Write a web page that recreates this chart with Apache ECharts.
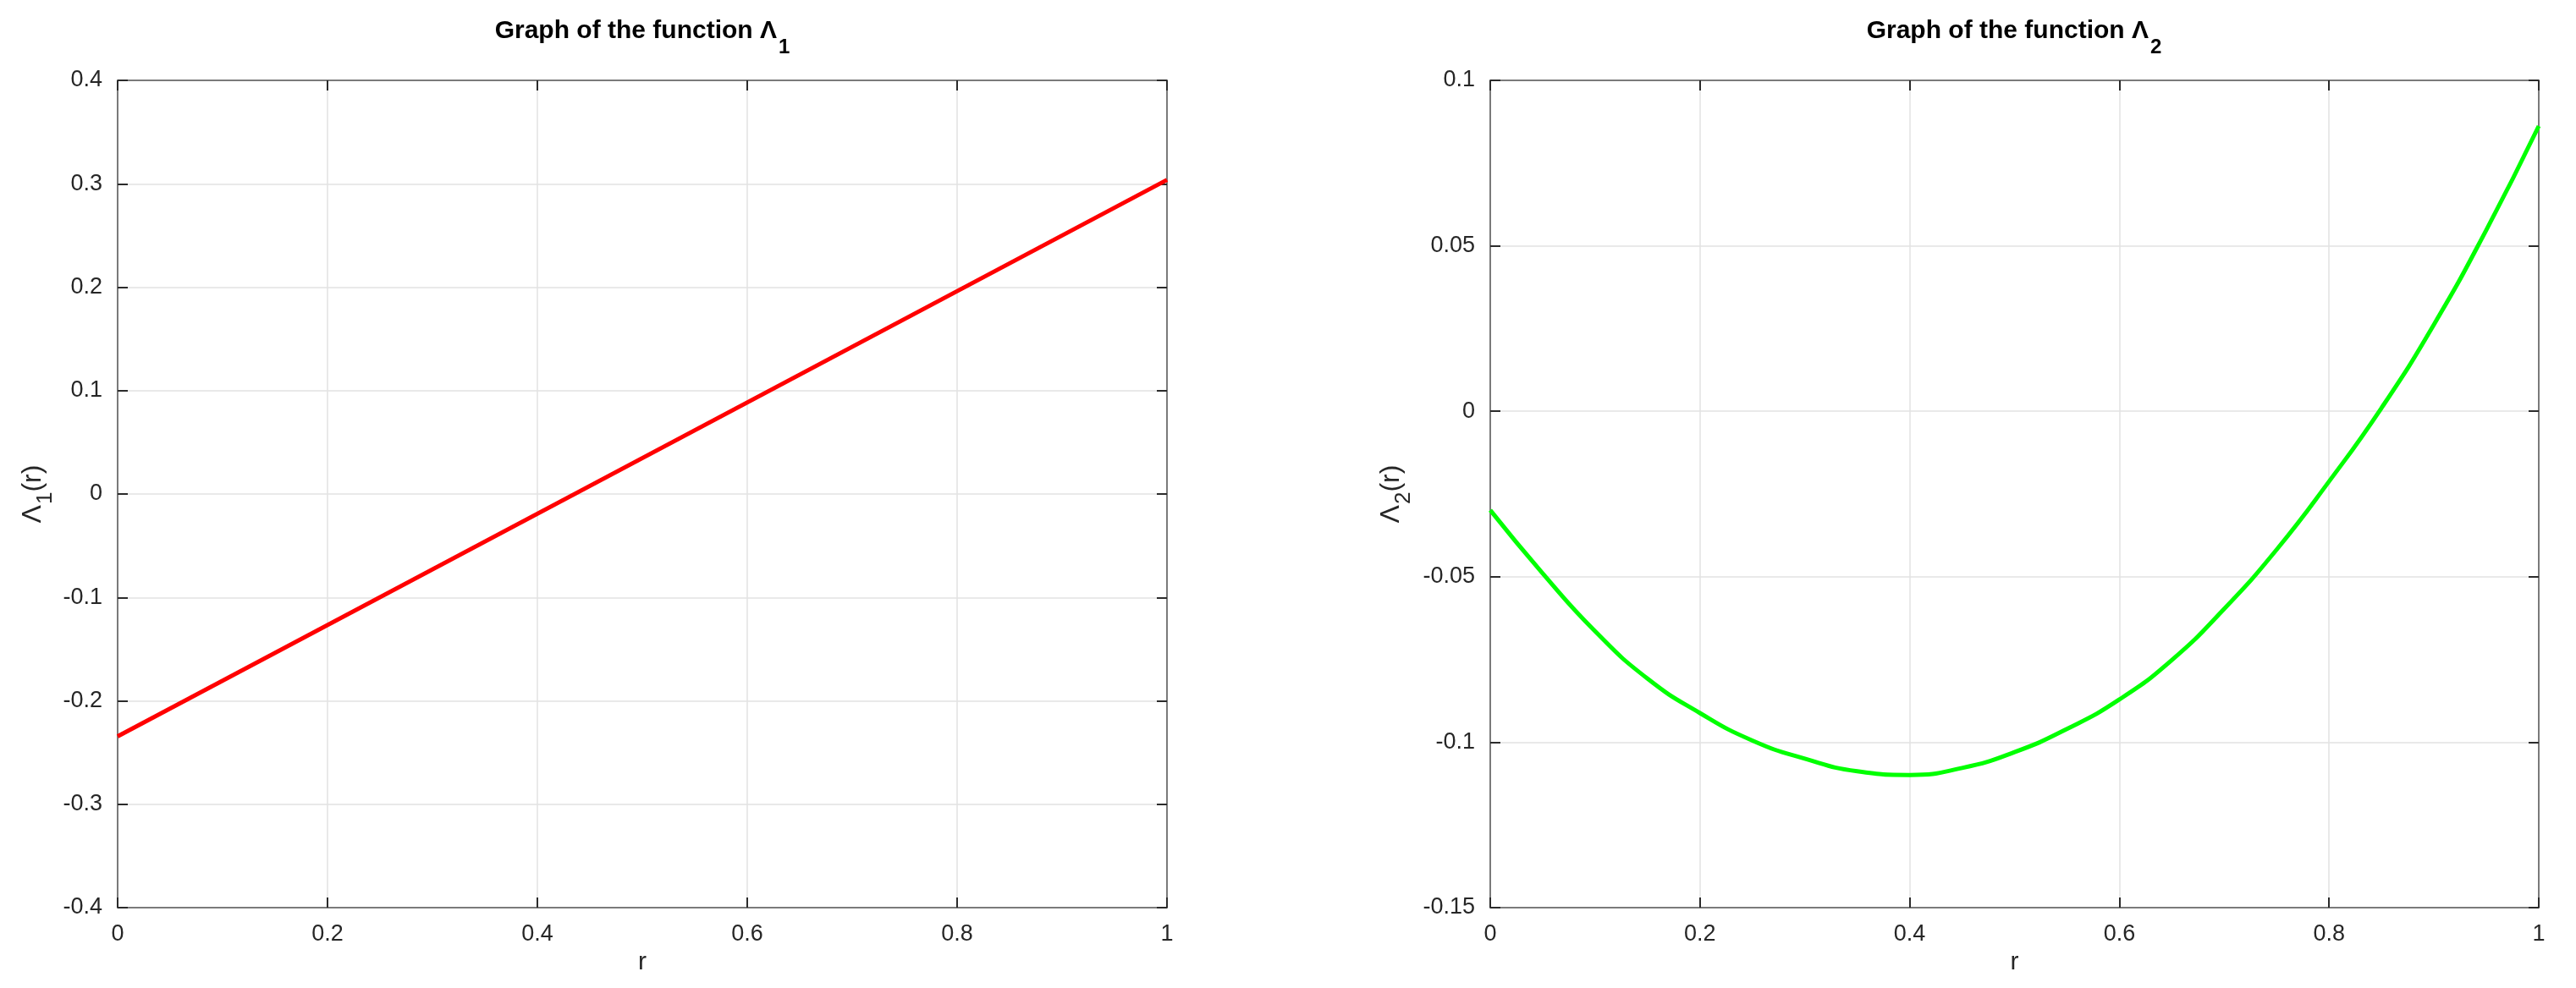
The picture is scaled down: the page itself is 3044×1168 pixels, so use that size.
<!DOCTYPE html>
<html>
<head>
<meta charset="utf-8">
<script src="https://cdn.jsdelivr.net/npm/echarts@6/dist/echarts.min.js"></script>
<style>
html,body{margin:0;padding:0;background:#fff;}
#chart{width:3044px;height:1168px;}
</style>
</head>
<body>
<div id="chart"></div>
<script>
// ---- data ----
const rTicks = [0, 0.2, 0.4, 0.6, 0.8, 1];
const r1 = [0, 1];
const lambda1 = [-0.2344, 0.3038];
const r2 = [0, 0.05, 0.1, 0.15, 0.2, 0.25, 0.3, 0.35, 0.4, 0.45, 0.5, 0.55, 0.6, 0.65, 0.7, 0.75, 0.8, 0.85, 0.9, 0.95, 1];
const lambda2 = [-0.0299, -0.0490, -0.0665, -0.0808, -0.0912, -0.0995, -0.1050, -0.1088, -0.1099, -0.1078, -0.1030, -0.0960, -0.0871, -0.0752, -0.0597, -0.0418, -0.0212, 0.0010, 0.0262, 0.0548, 0.0862];
const title1 = ['Graph of the function Λ', '1'];
const title2 = ['Graph of the function Λ', '2'];
const yName1 = ['Λ', '1', '(r)'];
const yName2 = ['Λ', '2', '(r)'];
const xName = 'r';

const FONT = '"Liberation Sans", Arial, sans-serif';
const AXIS_LINE = '#7a7a7a';
const TICK = '#2b2b2b';
const GRID = '#e2e2e2';
const LABEL = '#262626';

function titleOpt(parts, cx) {
  return {
    text: '{a|' + parts[0] + '}{s|' + parts[1] + '}',
    left: cx, top: 22, textAlign: 'center', padding: 0,
    textStyle: {
      rich: {
        a: { fontFamily: FONT, fontWeight: 'bold', fontSize: 30, color: '#000', verticalAlign: 'top' },
        s: { fontFamily: FONT, fontWeight: 'bold', fontSize: 24, color: '#000', verticalAlign: 'top', padding: [22, 0, 0, 2] }
      }
    }
  };
}

function xMain(gi) {
  return {
    type: 'value', gridIndex: gi, min: 0, max: 1, interval: 0.2, position: 'bottom',
    name: xName, nameLocation: 'middle', nameGap: 50,
    nameTextStyle: { fontFamily: FONT, fontSize: 30, color: LABEL },
    axisLine: { show: true, onZero: false, lineStyle: { color: AXIS_LINE, width: 2 } },
    axisTick: { show: true, inside: true, length: 12, lineStyle: { color: TICK, width: 2 } },
    axisLabel: { fontFamily: FONT, fontSize: 27, color: LABEL, margin: 18 },
    splitLine: { show: true, lineStyle: { color: GRID, width: 1.5 } }
  };
}
function xTop(gi) {
  return {
    type: 'value', gridIndex: gi, min: 0, max: 1, interval: 0.2, position: 'top',
    axisLine: { show: true, onZero: false, lineStyle: { color: AXIS_LINE, width: 2 } },
    axisTick: { show: true, inside: true, length: 12, lineStyle: { color: TICK, width: 2 } },
    axisLabel: { show: false }, splitLine: { show: false }
  };
}
function yMain(gi, min, max, interval, nameParts, gap) {
  return {
    type: 'value', gridIndex: gi, min: min, max: max, interval: interval, position: 'left',
    name: '{a|' + nameParts[0] + '}{s|' + nameParts[1] + '}{a|' + nameParts[2] + '}',
    nameLocation: 'middle', nameGap: gap, nameRotate: 90,
    nameTextStyle: {
      rich: {
        a: { fontFamily: FONT, fontSize: 32, color: LABEL, verticalAlign: 'top' },
        s: { fontFamily: FONT, fontSize: 26, color: LABEL, verticalAlign: 'top', padding: [18, 0, 0, 1] }
      }
    },
    axisLine: { show: true, onZero: false, lineStyle: { color: AXIS_LINE, width: 2 } },
    axisTick: { show: true, inside: true, length: 12, lineStyle: { color: TICK, width: 2 } },
    axisLabel: { fontFamily: FONT, fontSize: 27, color: LABEL, margin: 18 },
    splitLine: { show: true, lineStyle: { color: GRID, width: 1.5 } }
  };
}
function yRight(gi, min, max, interval) {
  return {
    type: 'value', gridIndex: gi, min: min, max: max, interval: interval, position: 'right',
    axisLine: { show: true, onZero: false, lineStyle: { color: AXIS_LINE, width: 2 } },
    axisTick: { show: true, inside: true, length: 12, lineStyle: { color: TICK, width: 2 } },
    axisLabel: { show: false }, splitLine: { show: false }
  };
}

const chart = echarts.init(document.getElementById('chart'), null, { renderer: 'canvas' });
chart.setOption({
  backgroundColor: '#ffffff',
  animation: false,
  title: [titleOpt(title1, 759), titleOpt(title2, 2380)],
  grid: [
    { left: 139, right: 3044 - 1379, top: 95, bottom: 1168 - 1073, containLabel: false },
    { left: 1761, right: 3044 - 3000, top: 95, bottom: 1168 - 1073, containLabel: false }
  ],
  xAxis: [xMain(0), xTop(0), xMain(1), xTop(1)],
  yAxis: [
    yMain(0, -0.4, 0.4, 0.1, yName1, 72),
    yRight(0, -0.4, 0.4, 0.1),
    yMain(1, -0.15, 0.1, 0.05, yName2, 89),
    yRight(1, -0.15, 0.1, 0.05)
  ],
  series: [
    {
      type: 'line', xAxisIndex: 0, yAxisIndex: 0, showSymbol: false, symbol: 'none',
      data: r1.map((r, i) => [r, lambda1[i]]),
      lineStyle: { color: '#ff0000', width: 5 }, z: 5
    },
    {
      type: 'line', xAxisIndex: 2, yAxisIndex: 2, showSymbol: false, symbol: 'none', smooth: true,
      data: r2.map((r, i) => [r, lambda2[i]]),
      lineStyle: { color: '#00ff00', width: 5 }, z: 5
    }
  ]
});
</script>
</body>
</html>
